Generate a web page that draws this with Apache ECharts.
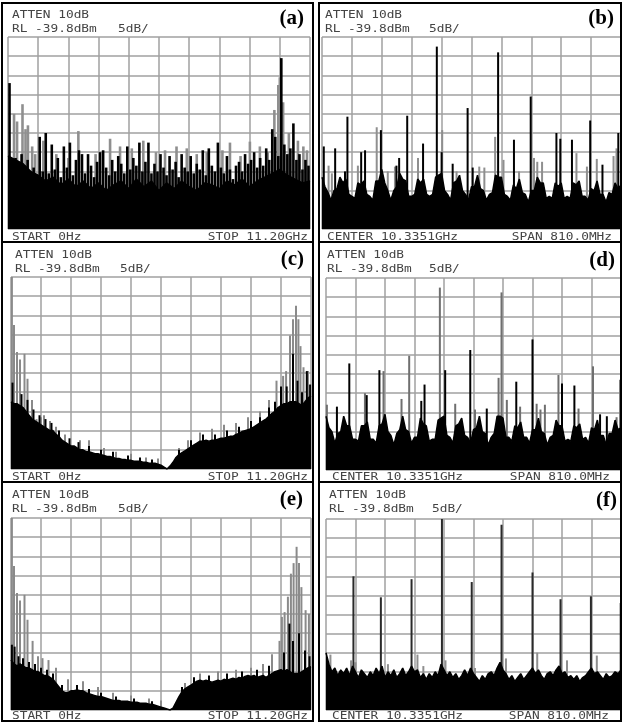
<!DOCTYPE html>
<html><head><meta charset="utf-8">
<script src="https://cdn.jsdelivr.net/npm/echarts/dist/echarts.min.js"></script>
<style>html,body{margin:0;padding:0;background:#fff}#c{width:623px;height:722px}</style>
</head><body><div id="c"></div>
<script>
// ---------- text ----------
const panelLetters = ['(a)', '(b)', '(c)', '(d)', '(e)', '(f)'];
const attenText = 'ATTEN 10dB';
const refLevelText = 'RL -39.8dBm';
const scaleText = '5dB/';
const startText = 'START 0Hz';
const stopText = 'STOP 11.20GHz';
const centerText = 'CENTER 10.3351GHz';
const spanText = 'SPAN 810.0MHz';

// ---------- data (x and y in screen divisions, 0..10) ----------
// (a) full span 0 - 11.2 GHz
const aFloor = [3.8,3.6,3.4,3.0,2.8,2.5,2.7,2.3,2.6,2.2,2.5,2.1,2.4,2.0,2.3,2.5,2.1,2.6,2.2,2.5,2.0,2.4,2.1,2.5,2.2,2.0,2.4,2.3,2.1,2.5,2.3,2.6,2.2,2.5,2.7,2.9,3.1,2.8,2.6,2.4,2.5];
const aBlack = [7.6,3.5,3.7,3.4,3.9,3.3,3.6,2.8,3.2,2.6,4.8,3.0,5.0,2.9,4.4,3.1,3.7,2.7,4.3,3.2,
  4.5,2.8,3.6,4.1,3.9,2.9,3.9,3.3,2.7,3.5,4.0,4.1,3.2,2.8,3.6,3.0,3.8,3.4,2.9,4.3,
  3.1,3.7,3.3,4.5,3.0,3.5,4.5,2.9,3.4,3.0,3.9,3.2,2.8,3.8,3.1,3.5,2.7,3.9,3.2,3.0,
  3.8,2.9,3.4,3.1,4.1,2.8,4.2,3.3,3.0,4.5,3.2,2.9,3.8,3.1,2.6,3.3,3.5,3.0,3.9,3.4,
  3.6,4.0,3.2,3.7,3.3,4.2,3.6,5.2,4.8,3.8,8.9,4.4,3.9,4.2,5.5,3.6,3.9,3.1,3.6,3.3];
const aGray = [[0.2,6.0],[0.3,5.6],[0.48,6.5],[0.58,5.2],[0.66,5.4],[0.8,4.3],[0.9,3.9],[1.17,4.6],[1.6,3.9],[2.0,3.7],[2.33,5.1],[2.9,3.9],[3.38,4.7],[3.71,4.3],[4.1,4.2],[4.48,4.6],[4.9,4.0],[5.2,4.1],[5.58,4.3],[5.92,4.2],[6.25,3.9],[6.58,4.0],[7.1,4.1],[7.35,4.5],[7.7,3.8],[8.01,4.55],[8.34,4.3],[8.6,4.0],[8.82,6.2],[8.95,7.5],[9.0,7.9],[9.11,6.6],[9.3,5.0],[9.6,4.6],[9.78,4.3],[9.9,4.1]];

// (b) span 810 MHz around 10.3351 GHz
const bFloor = [2.7,2.2,1.9,1.5,2.0,2.1,2.7,2.4,2.6,1.8,1.7,1.6,2.4,2.3,2.5,1.8,1.7,1.5,2.5,2.5,
  3.1,2.4,2.0,1.5,2.0,2.2,2.9,2.6,2.5,1.7,1.7,1.8,2.6,2.4,2.6,1.8,1.7,1.8,2.7,2.8,
  2.9,2.0,1.8,1.5,2.4,2.5,2.8,2.0,1.8,1.5,2.2,2.2,2.8,2.1,2.0,1.5,1.8,1.9,2.8,2.7,
  2.7,1.8,1.7,1.5,2.3,2.1,2.6,1.9,1.8,1.4,2.0,2.0,2.7,2.4,2.4,1.6,1.7,1.6,2.4,2.2,
  2.4,1.6,1.7,1.6,2.4,2.3,2.5,1.7,1.7,1.5,2.1,2.0,2.5,1.8,1.8,1.4,1.9,1.8,2.4,2.1,2.3];
const bBlack = [[0.06,4.3],[0.44,4.2],[0.77,3.0],[0.85,5.85],[1.31,4.0],[1.44,4.1],[1.97,5.15],[2.49,3.3],[2.58,3.7],[2.85,5.9],[3.38,4.45],[3.84,9.5],[4.0,4.0],[4.37,3.4],[4.87,6.3],[5.04,3.2],[5.89,9.2],[6.42,4.65],[6.98,6.9],[7.84,5.0],[7.97,4.7],[8.36,4.65],[8.97,5.65],[9.38,3.35],[9.91,5.0]];
const bGray = [[0.22,3.3],[0.33,2.9],[1.2,3.3],[1.83,5.3],[2.2,3.0],[2.44,3.25],[3.21,3.7],[4.02,5.15],[4.5,3.0],[5.26,3.25],[5.43,3.2],[5.79,4.8],[6.07,3.6],[6.59,3.0],[7.09,3.7],[7.2,3.5],[7.36,3.5],[8.51,3.95],[8.86,3.25],[9.19,3.65],[9.75,3.8],[9.85,4.2]];

// (c) full span
const cFloor = [3.5,3.4,3.4,3.3,3.2,3.0,2.8,2.6,2.5,2.4,2.3,2.2,2.1,2.0,2.0,1.8,1.7,1.5,1.4,1.3,
  1.2,1.2,1.1,1.0,1.0,0.9,0.9,0.85,0.8,0.8,0.75,0.7,0.65,0.65,0.6,0.55,0.55,0.5,0.5,0.45,
  0.45,0.4,0.4,0.4,0.35,0.35,0.3,0.3,0.3,0.25,0.2,0.1,0.0,0.15,0.35,0.6,0.75,0.85,0.95,1.05,
  1.15,1.25,1.35,1.45,1.45,1.5,1.45,1.5,1.5,1.55,1.6,1.6,1.65,1.7,1.7,1.8,1.85,1.95,2.0,2.05,
  2.1,2.2,2.3,2.4,2.5,2.6,2.75,2.9,3.0,3.2,3.3,3.4,3.4,3.5,3.5,3.5,3.4,3.3,3.5,3.7,3.8];
const cBlack = [[0.05,4.5],[0.35,3.9],[0.55,3.6],[0.75,3.1],[0.95,2.8],[1.15,2.6],[1.35,2.4],[1.6,2.0],[1.95,1.6],[2.25,1.4],[2.6,1.2],[3.0,1.0],[3.4,0.9],[3.9,0.7],[4.3,0.6],[4.7,0.5],[5.6,1.0],[6.0,1.5],[6.4,1.8],[6.8,1.8],[7.2,2.0],[7.6,2.2],[8.0,2.5],[8.3,2.7],[8.6,3.2],[8.8,3.5],[9.0,4.3],[9.19,4.3],[9.4,6.0],[9.55,4.6],[9.7,4.0],[9.86,5.1],[9.97,4.4]];
const cGray = [[0.03,10.0],[0.1,7.5],[0.2,6.1],[0.3,5.7],[0.45,6.0],[0.55,4.7],[0.7,3.6],[0.85,2.6],[1.0,2.7],[1.1,2.8],[1.3,2.5],[1.5,2.2],[1.8,1.8],[2.3,1.5],[2.6,1.5],[3.1,1.1],[3.5,0.9],[4.0,0.8],[4.5,0.6],[4.9,0.55],[5.6,1.1],[5.9,1.5],[6.3,1.9],[6.7,2.1],[7.1,2.3],[7.5,2.4],[7.9,2.7],[8.3,3.0],[8.6,3.6],[8.85,4.6],[9.07,4.85],[9.17,5.1],[9.3,6.95],[9.4,7.8],[9.5,8.5],[9.58,7.8],[9.65,6.4],[9.75,5.3],[9.9,5.1]];

// (d) span 810 MHz
const dFloor = [2.8,2.2,2.0,1.4,1.9,2.0,2.8,2.3,2.3,1.6,1.6,1.5,2.3,2.3,2.5,1.6,1.6,1.4,2.3,2.4,
  2.9,2.0,1.8,1.3,1.9,2.1,2.8,2.1,2.0,1.4,1.7,1.7,2.7,2.4,2.3,1.5,1.6,1.6,2.6,2.7,
  2.8,1.8,1.7,1.4,2.3,2.4,2.7,1.8,1.7,1.4,2.1,2.2,2.8,2.0,1.9,1.3,1.7,1.9,2.8,2.8,
  2.7,1.7,1.7,1.5,2.3,2.2,2.5,1.7,1.7,1.4,2.1,2.1,2.7,2.0,1.9,1.3,1.7,1.8,2.6,2.3,
  2.3,1.5,1.6,1.5,2.3,2.2,2.4,1.6,1.7,1.4,2.2,2.1,2.6,1.8,1.8,1.3,1.9,1.9,2.6,2.1,2.2];
const dBlack = [[0.37,3.3],[0.79,5.55],[1.38,3.9],[1.81,5.2],[3.23,3.6],[3.34,4.45],[4.04,5.2],[4.89,6.25],[5.45,3.2],[6.45,4.6],[7.0,6.8],[8.0,4.5],[8.42,4.4],[9.29,2.9],[9.52,2.8]];
const dGray = [[0.03,3.4],[1.32,4.0],[1.95,5.15],[2.56,3.7],[2.82,5.95],[3.86,9.5],[4.38,3.45],[5.05,3.15],[5.85,4.8],[5.95,9.25],[6.13,3.65],[6.58,3.3],[7.14,3.45],[7.27,3.15],[7.42,3.4],[7.88,4.95],[8.56,3.2],[9.05,5.4],[9.85,2.75],[9.97,4.7]];

// (e) full span
const eFloor = [2.6,2.4,2.3,2.4,2.3,2.2,2.2,2.1,2.0,2.0,1.9,1.8,1.8,1.7,1.6,1.4,1.2,1.0,0.9,0.9,
  1.0,1.0,1.05,1.0,1.0,0.9,0.85,0.8,0.75,0.7,0.7,0.65,0.6,0.55,0.5,0.5,0.5,0.45,0.45,0.45,
  0.4,0.4,0.4,0.35,0.35,0.35,0.3,0.3,0.25,0.2,0.15,0.1,0.05,0.0,0.1,0.4,0.7,0.95,1.1,1.2,
  1.3,1.4,1.5,1.55,1.5,1.55,1.5,1.45,1.5,1.55,1.5,1.6,1.55,1.6,1.65,1.6,1.7,1.65,1.75,1.8,
  1.75,1.8,1.7,1.75,1.8,1.7,1.8,1.9,2.0,2.05,2.1,2.0,2.1,2.0,1.9,1.9,1.9,2.0,2.1,2.2,2.25];
const eBlack = [[0.03,3.4],[0.12,3.3],[0.25,2.8],[0.4,2.7],[0.6,2.5],[0.8,2.4],[1.0,2.2],[1.2,2.1],[1.4,1.9],[1.7,1.3],[2.2,1.3],[2.6,1.1],[3.0,0.9],[3.5,0.7],[4.1,0.6],[4.7,0.45],[5.7,1.2],[6.1,1.7],[6.6,1.8],[7.2,1.9],[7.7,2.0],[8.2,2.1],[8.6,2.3],[9.1,3.0],[9.28,4.5],[9.4,3.6],[9.6,4.0],[9.8,3.1],[9.95,2.8]];
const eGray = [[0.03,10.0],[0.1,7.5],[0.2,6.1],[0.3,5.7],[0.45,6.0],[0.55,4.7],[0.72,3.6],[0.9,2.8],[1.05,2.7],[1.25,2.6],[1.5,2.2],[1.9,1.6],[2.4,1.5],[2.9,1.2],[3.4,0.9],[4.0,0.75],[4.6,0.6],[5.0,0.5],[5.8,1.4],[6.3,1.9],[6.9,2.0],[7.5,2.1],[8.0,2.2],[8.4,2.4],[8.7,2.9],[8.95,3.6],[9.03,4.85],[9.12,5.1],[9.23,5.9],[9.33,7.1],[9.42,7.65],[9.52,8.5],[9.6,7.65],[9.68,6.4],[9.82,5.2],[9.93,5.0]];

// (f) span 810 MHz
const fFloor = [3.0,2.4,2.0,2.2,1.8,2.1,1.9,2.2,1.8,2.3,2.0,1.7,2.1,1.9,1.7,2.0,1.8,2.2,1.9,2.3,
  1.7,2.0,1.8,2.1,1.7,1.9,2.2,1.8,2.0,2.3,2.0,2.1,1.7,1.9,1.6,1.9,1.7,2.0,1.8,2.4,
  2.1,1.8,2.0,1.7,1.9,1.6,1.8,2.1,1.8,2.2,1.9,1.7,1.5,1.8,1.6,1.9,2.0,1.8,2.2,2.5,
  2.1,1.9,1.6,1.8,1.5,1.7,1.9,1.6,1.8,2.0,2.2,1.9,2.1,1.8,1.6,1.9,2.0,1.8,2.1,2.3,
  1.9,2.0,1.7,1.8,1.6,1.8,1.5,1.7,1.8,2.0,2.2,1.9,2.0,1.8,1.6,1.9,1.7,1.8,2.0,1.9,2.1];
const fBlack = [[0.93,7.0],[1.86,5.9],[2.9,6.85],[3.93,10.0],[4.94,6.7],[5.95,9.7],[7.0,7.2],[7.95,5.8],[8.98,5.95],[9.99,5.6]];
const fGray = [[0.15,2.9],[0.85,2.6],[1.0,2.5],[2.1,2.4],[3.1,2.9],[3.3,2.3],[4.05,2.6],[5.05,2.2],[6.1,2.7],[7.16,3.0],[8.17,2.6],[9.18,2.85]];

// ---------- build ----------
function pairs(arr, step, off) { return arr.map((v, i) => [+(i * step + off).toFixed(3), v]); }
const panelSeries = [
  { floor: pairs(aFloor, 0.25, 0), black: pairs(aBlack, 0.1, 0.05), gray: aGray, grayColor: '#8f8f8f', blackColor: '#000', bw: 2.6 },
  { floor: pairs(bFloor, 0.1, 0), black: bBlack, gray: bGray, grayColor: '#8f8f8f', blackColor: '#000', bw: 2 },
  { floor: pairs(cFloor, 0.1, 0), black: cBlack, gray: cGray, grayColor: '#8a8a8a', blackColor: '#000', bw: 2 },
  { floor: pairs(dFloor, 0.1, 0), black: dBlack, gray: dGray, grayColor: '#6f6f6f', blackColor: '#000', bw: 2 },
  { floor: pairs(eFloor, 0.1, 0), black: eBlack, gray: eGray, grayColor: '#8a8a8a', blackColor: '#000', bw: 2 },
  { floor: pairs(fFloor, 0.1, 0), black: fBlack, gray: fGray, grayColor: '#8f8f8f', blackColor: '#2a2a2a', bw: 2 }
];

const layout = [
  { grid: [8, 37, 302, 192], box: [2, 3, 311, 239], hx: 12, hy: 15, sx: 118, lx: 304, ly: 19, fy: 237, fl: 12, fr: 308, foot: [startText, stopText] },
  { grid: [322, 37, 299, 192], box: [319, 3, 302, 239], hx: 325, hy: 15, sx: 429, lx: 614, ly: 19, fy: 237, fl: 327, fr: 612, foot: [centerText, spanText] },
  { grid: [11, 277, 300, 192], box: [2, 242, 311, 240], hx: 15, hy: 255, sx: 120, lx: 304, ly: 260, fy: 477, fl: 12, fr: 308, foot: [startText, stopText] },
  { grid: [326, 278, 295, 192], box: [319, 242, 302, 240], hx: 327, hy: 255, sx: 429, lx: 615, ly: 261, fy: 477, fl: 332, fr: 610, foot: [centerText, spanText] },
  { grid: [11, 518, 300, 192], box: [2, 482, 311, 239], hx: 12, hy: 495, sx: 118, lx: 303, ly: 500, fy: 716, fl: 12, fr: 308, foot: [startText, stopText] },
  { grid: [326, 519, 295, 191], box: [319, 482, 302, 239], hx: 329, hy: 495, sx: 432, lx: 617, ly: 501, fy: 716, fl: 332, fr: 609, foot: [centerText, spanText] }
];

const grids = [], xAxes = [], yAxes = [], series = [], graphics = [];
const splitStyle = { show: true, lineStyle: { color: '#a0a0a0', width: 1.5 } };
const axisBase = { type: 'value', min: 0, max: 10, interval: 1, axisLine: { show: false }, axisTick: { show: false }, axisLabel: { show: false }, splitLine: splitStyle };
const mono = "'DejaVu Sans Mono', monospace";
function monoText(text, x, y, align) {
  return { type: 'text', x: x, y: y, scaleX: 1.28, z: 10,
    style: { text: text, x: 0, y: 0, fontSize: 10, fontFamily: mono, fill: '#444', textAlign: align || 'left', textVerticalAlign: 'middle' } };
}

layout.forEach((L, k) => {
  grids.push({ left: L.grid[0], top: L.grid[1], width: L.grid[2], height: L.grid[3], containLabel: false });
  xAxes.push(Object.assign({ gridIndex: k }, axisBase));
  yAxes.push(Object.assign({ gridIndex: k }, axisBase));
  const P = panelSeries[k];
  series.push({ type: 'bar', xAxisIndex: k, yAxisIndex: k, data: P.gray, barWidth: P.bw, barGap: '-100%', itemStyle: { color: P.grayColor }, z: 2 });
  series.push({ type: 'bar', xAxisIndex: k, yAxisIndex: k, data: P.black, barWidth: P.bw, barGap: '-100%', itemStyle: { color: P.blackColor }, z: 2 });
  series.push({ type: 'line', xAxisIndex: k, yAxisIndex: k, data: P.floor, symbol: 'none', lineStyle: { color: '#000', width: 1.5 }, areaStyle: { color: '#000', opacity: 1 }, z: 3 });

  graphics.push({ type: 'rect', z: 20, shape: { x: L.box[0], y: L.box[1], width: L.box[2], height: L.box[3] }, style: { fill: null, stroke: '#000', lineWidth: 2 } });
  graphics.push(monoText(attenText, L.hx, L.hy));
  graphics.push(monoText(refLevelText, L.hx, L.hy + 14));
  graphics.push(monoText(scaleText, L.sx, L.hy + 14));
  graphics.push(monoText(L.foot[0], L.fl, L.fy));
  graphics.push(monoText(L.foot[1], L.fr, L.fy, 'right'));
  graphics.push({ type: 'text', x: L.lx, y: L.ly, z: 10,
    style: { text: panelLetters[k], x: 0, y: 0, fontSize: 21, fontWeight: 'bold', fontFamily: "'Liberation Serif', 'Times New Roman', serif", fill: '#000', textAlign: 'right', textVerticalAlign: 'middle' } });
});

const chart = echarts.init(document.getElementById('c'), null, { renderer: 'canvas' });
chart.setOption({
  animation: false,
  backgroundColor: '#fff',
  grid: grids, xAxis: xAxes, yAxis: yAxes, series: series, graphic: graphics
});
</script></body></html>
